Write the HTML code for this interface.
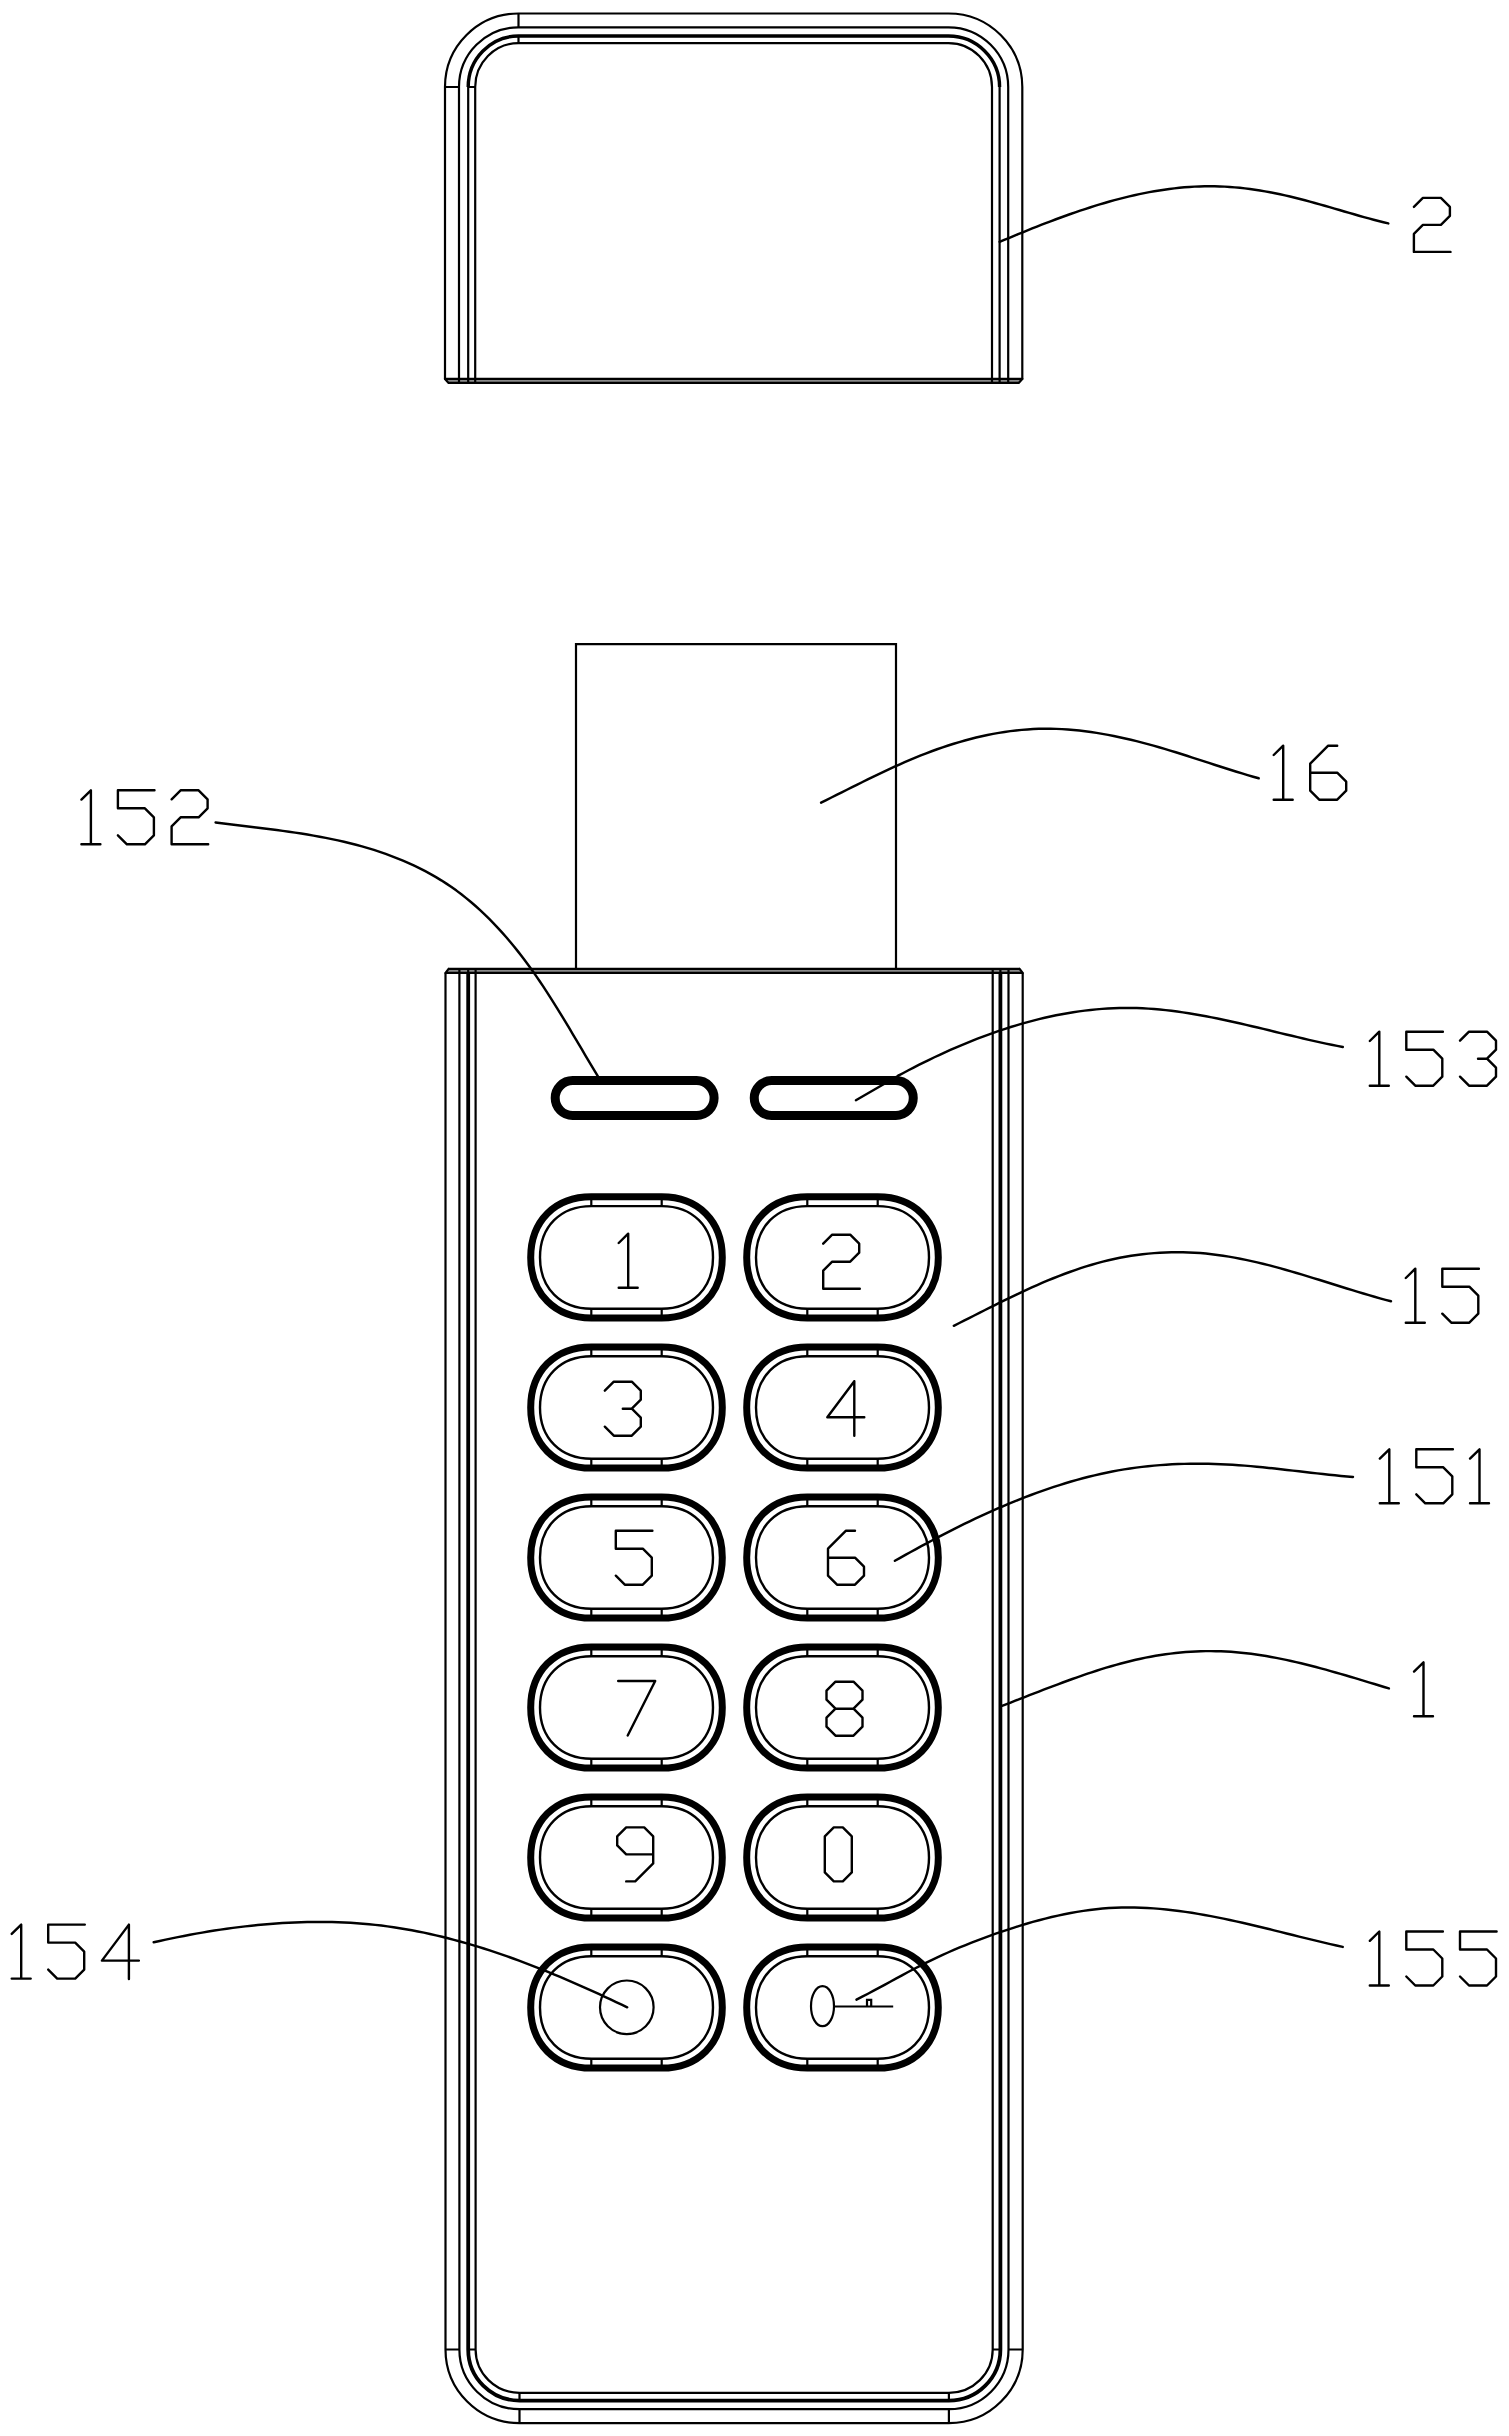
<!DOCTYPE html><html><head><meta charset="utf-8"><title>drawing</title><style>html,body{margin:0;padding:0;background:#fff;}svg{display:block;}</style></head><body>
<svg width="1509" height="2436" viewBox="0 0 1509 2436">
<rect width="1509" height="2436" fill="#fff"/>
<g fill="none" stroke="#000" stroke-linecap="round" stroke-linejoin="round">
<path d="M445,379 L445,87 A73.5,73.5 0 0 1 518.5,13.5 L948.5,13.5 A73.8,73.5 0 0 1 1022.3,87 L1022.3,379" stroke-width="2.2"/>
<path d="M459,379 L459,87 A59.5,59.7 0 0 1 518.5,27.3 L948.5,27.3 A59.7,59.7 0 0 1 1008.2,87 L1008.2,379" stroke-width="2.2"/>
<path d="M468.2,87 A50.3,51 0 0 1 518.5,36 L948.5,36 A51.1,51 0 0 1 999.6,87" stroke-width="3.4" stroke-linecap="butt"/>
<path d="M468.2,87 L468.2,379 M999.6,87 L999.6,379" stroke-width="2.2"/>
<path d="M475.2,379 L475.2,87 A43.3,43.9 0 0 1 518.5,43.1 L948.5,43.1 A43.5,43.9 0 0 1 992,87 L992,379" stroke-width="2.2"/>
<path d="M518.5,13.5 L518.5,27.3 M518.5,36 L518.5,43.1 M445,87 L459,87 M468.2,87 L475.2,87" stroke-width="2.2" stroke-linecap="butt"/>
<path d="M447,381 L1020.3,381" stroke="#8a8a8a" stroke-width="2.2" stroke-linecap="butt"/>
<path d="M445,378.9 L1022.3,378.9 M445,378.9 L448.6,382.9 L1018.7,382.9 L1022.3,378.9" stroke-width="2.2"/>
<path d="M459,379 L459,383 M468.2,379 L468.2,383 M475.2,379 L475.2,383 M1008.2,379 L1008.2,383 M999.6,379 L999.6,383 M992,379 L992,383" stroke-width="2.2" stroke-linecap="butt"/>
<path d="M576,969 L576,644.1 L896,644.1 L896,969" stroke-width="2.2" stroke-linejoin="miter"/>
<path d="M445.5,972.8 L445.5,2349.5 A74,73.6 0 0 0 519.5,2423.1 L948.9,2423.1 A73.8,73.6 0 0 0 1022.7,2349.5 L1022.7,972.8" stroke-width="2.2" stroke-linecap="butt"/>
<path d="M459.4,972.8 L459.4,2349.5 A60.1,59.7 0 0 0 519.5,2409.2 L948.9,2409.2 A59.6,59.7 0 0 0 1008.5,2349.5 L1008.5,972.8" stroke-width="2.2" stroke-linecap="butt"/>
<path d="M468.2,972.8 L468.2,2349.5 A51.3,51.1 0 0 0 519.5,2400.6 L948.9,2400.6 A51.5,51.1 0 0 0 1000.4,2349.5 L1000.4,972.8" stroke-width="3.8" stroke-linecap="butt"/>
<path d="M475.6,972.8 L475.6,2349.5 A43.9,43.3 0 0 0 519.5,2392.8 L948.9,2392.8 A43.8,43.3 0 0 0 992.7,2349.5 L992.7,972.8" stroke-width="2.2" stroke-linecap="butt"/>
<path d="M445.5,2349.5 L459.4,2349.5 M468.2,2349.5 L475.6,2349.5 M519.5,2392.8 L519.5,2400.6 M519.5,2409.2 L519.5,2423.1 M1022.7,2349.5 L1008.5,2349.5 M1000.4,2349.5 L992.7,2349.5 M948.9,2392.8 L948.9,2400.6 M948.9,2409.2 L948.9,2423.1" stroke-width="2.2" stroke-linecap="butt"/>
<path d="M447.5,970.9 L1020.7,970.9" stroke="#8a8a8a" stroke-width="2.2" stroke-linecap="butt"/>
<path d="M448.6,968.9 L1019.6,968.9 M445.5,972.9 L448.6,968.9 M1022.7,972.9 L1019.6,968.9 M445.5,972.9 L1022.7,972.9" stroke-width="2.2"/>
<path d="M459.4,969 L459.4,973 M468.2,969 L468.2,973 M475.6,969 L475.6,973 M1008.5,969 L1008.5,973 M1000.4,969 L1000.4,973 M992.7,969 L992.7,973" stroke-width="2.2" stroke-linecap="butt"/>
<rect x="555.2" y="1080.6" width="158.9" height="34.9" rx="17.45" ry="17.45" stroke-width="9"/>
<rect x="754.25" y="1080.6" width="159" height="34.9" rx="17.45" ry="17.45" stroke-width="9"/>
<path d="M591.3,1196.8 L661.7,1196.8 C698.06,1196.8 722.3,1221.04 722.3,1257.4 C722.3,1293.76 698.06,1318 661.7,1318 L591.3,1318 C554.94,1318 530.7,1293.76 530.7,1257.4 C530.7,1221.04 554.94,1196.8 591.3,1196.8 Z" stroke-width="7"/>
<path d="M591.3,1206.1 L661.7,1206.1 C692.48,1206.1 713,1226.62 713,1257.4 C713,1288.18 692.48,1308.7 661.7,1308.7 L591.3,1308.7 C560.52,1308.7 540,1288.18 540,1257.4 C540,1226.62 560.52,1206.1 591.3,1206.1 Z" stroke-width="2.4"/>
<path d="M591.3,1199.9 L591.3,1206.1 M661.7,1199.9 L661.7,1206.1 M591.3,1314.9 L591.3,1308.7 M661.7,1314.9 L661.7,1308.7" stroke-width="2.2" stroke-linecap="butt"/>
<path d="M807.3,1196.8 L877.7,1196.8 C914.06,1196.8 938.3,1221.04 938.3,1257.4 C938.3,1293.76 914.06,1318 877.7,1318 L807.3,1318 C770.94,1318 746.7,1293.76 746.7,1257.4 C746.7,1221.04 770.94,1196.8 807.3,1196.8 Z" stroke-width="7"/>
<path d="M807.3,1206.1 L877.7,1206.1 C908.48,1206.1 929,1226.62 929,1257.4 C929,1288.18 908.48,1308.7 877.7,1308.7 L807.3,1308.7 C776.52,1308.7 756,1288.18 756,1257.4 C756,1226.62 776.52,1206.1 807.3,1206.1 Z" stroke-width="2.4"/>
<path d="M807.3,1199.9 L807.3,1206.1 M877.7,1199.9 L877.7,1206.1 M807.3,1314.9 L807.3,1308.7 M877.7,1314.9 L877.7,1308.7" stroke-width="2.2" stroke-linecap="butt"/>
<path d="M591.3,1346.9 L661.7,1346.9 C698.06,1346.9 722.3,1371.14 722.3,1407.5 C722.3,1443.86 698.06,1468.1 661.7,1468.1 L591.3,1468.1 C554.94,1468.1 530.7,1443.86 530.7,1407.5 C530.7,1371.14 554.94,1346.9 591.3,1346.9 Z" stroke-width="7"/>
<path d="M591.3,1356.2 L661.7,1356.2 C692.48,1356.2 713,1376.72 713,1407.5 C713,1438.28 692.48,1458.8 661.7,1458.8 L591.3,1458.8 C560.52,1458.8 540,1438.28 540,1407.5 C540,1376.72 560.52,1356.2 591.3,1356.2 Z" stroke-width="2.4"/>
<path d="M591.3,1350 L591.3,1356.2 M661.7,1350 L661.7,1356.2 M591.3,1465 L591.3,1458.8 M661.7,1465 L661.7,1458.8" stroke-width="2.2" stroke-linecap="butt"/>
<path d="M807.3,1346.9 L877.7,1346.9 C914.06,1346.9 938.3,1371.14 938.3,1407.5 C938.3,1443.86 914.06,1468.1 877.7,1468.1 L807.3,1468.1 C770.94,1468.1 746.7,1443.86 746.7,1407.5 C746.7,1371.14 770.94,1346.9 807.3,1346.9 Z" stroke-width="7"/>
<path d="M807.3,1356.2 L877.7,1356.2 C908.48,1356.2 929,1376.72 929,1407.5 C929,1438.28 908.48,1458.8 877.7,1458.8 L807.3,1458.8 C776.52,1458.8 756,1438.28 756,1407.5 C756,1376.72 776.52,1356.2 807.3,1356.2 Z" stroke-width="2.4"/>
<path d="M807.3,1350 L807.3,1356.2 M877.7,1350 L877.7,1356.2 M807.3,1465 L807.3,1458.8 M877.7,1465 L877.7,1458.8" stroke-width="2.2" stroke-linecap="butt"/>
<path d="M591.3,1496.9 L661.7,1496.9 C698.06,1496.9 722.3,1521.14 722.3,1557.5 C722.3,1593.86 698.06,1618.1 661.7,1618.1 L591.3,1618.1 C554.94,1618.1 530.7,1593.86 530.7,1557.5 C530.7,1521.14 554.94,1496.9 591.3,1496.9 Z" stroke-width="7"/>
<path d="M591.3,1506.2 L661.7,1506.2 C692.48,1506.2 713,1526.72 713,1557.5 C713,1588.28 692.48,1608.8 661.7,1608.8 L591.3,1608.8 C560.52,1608.8 540,1588.28 540,1557.5 C540,1526.72 560.52,1506.2 591.3,1506.2 Z" stroke-width="2.4"/>
<path d="M591.3,1500 L591.3,1506.2 M661.7,1500 L661.7,1506.2 M591.3,1615 L591.3,1608.8 M661.7,1615 L661.7,1608.8" stroke-width="2.2" stroke-linecap="butt"/>
<path d="M807.3,1496.9 L877.7,1496.9 C914.06,1496.9 938.3,1521.14 938.3,1557.5 C938.3,1593.86 914.06,1618.1 877.7,1618.1 L807.3,1618.1 C770.94,1618.1 746.7,1593.86 746.7,1557.5 C746.7,1521.14 770.94,1496.9 807.3,1496.9 Z" stroke-width="7"/>
<path d="M807.3,1506.2 L877.7,1506.2 C908.48,1506.2 929,1526.72 929,1557.5 C929,1588.28 908.48,1608.8 877.7,1608.8 L807.3,1608.8 C776.52,1608.8 756,1588.28 756,1557.5 C756,1526.72 776.52,1506.2 807.3,1506.2 Z" stroke-width="2.4"/>
<path d="M807.3,1500 L807.3,1506.2 M877.7,1500 L877.7,1506.2 M807.3,1615 L807.3,1608.8 M877.7,1615 L877.7,1608.8" stroke-width="2.2" stroke-linecap="butt"/>
<path d="M591.3,1646.9 L661.7,1646.9 C698.06,1646.9 722.3,1671.14 722.3,1707.5 C722.3,1743.86 698.06,1768.1 661.7,1768.1 L591.3,1768.1 C554.94,1768.1 530.7,1743.86 530.7,1707.5 C530.7,1671.14 554.94,1646.9 591.3,1646.9 Z" stroke-width="7"/>
<path d="M591.3,1656.2 L661.7,1656.2 C692.48,1656.2 713,1676.72 713,1707.5 C713,1738.28 692.48,1758.8 661.7,1758.8 L591.3,1758.8 C560.52,1758.8 540,1738.28 540,1707.5 C540,1676.72 560.52,1656.2 591.3,1656.2 Z" stroke-width="2.4"/>
<path d="M591.3,1650 L591.3,1656.2 M661.7,1650 L661.7,1656.2 M591.3,1765 L591.3,1758.8 M661.7,1765 L661.7,1758.8" stroke-width="2.2" stroke-linecap="butt"/>
<path d="M807.3,1646.9 L877.7,1646.9 C914.06,1646.9 938.3,1671.14 938.3,1707.5 C938.3,1743.86 914.06,1768.1 877.7,1768.1 L807.3,1768.1 C770.94,1768.1 746.7,1743.86 746.7,1707.5 C746.7,1671.14 770.94,1646.9 807.3,1646.9 Z" stroke-width="7"/>
<path d="M807.3,1656.2 L877.7,1656.2 C908.48,1656.2 929,1676.72 929,1707.5 C929,1738.28 908.48,1758.8 877.7,1758.8 L807.3,1758.8 C776.52,1758.8 756,1738.28 756,1707.5 C756,1676.72 776.52,1656.2 807.3,1656.2 Z" stroke-width="2.4"/>
<path d="M807.3,1650 L807.3,1656.2 M877.7,1650 L877.7,1656.2 M807.3,1765 L807.3,1758.8 M877.7,1765 L877.7,1758.8" stroke-width="2.2" stroke-linecap="butt"/>
<path d="M591.3,1796.9 L661.7,1796.9 C698.06,1796.9 722.3,1821.14 722.3,1857.5 C722.3,1893.86 698.06,1918.1 661.7,1918.1 L591.3,1918.1 C554.94,1918.1 530.7,1893.86 530.7,1857.5 C530.7,1821.14 554.94,1796.9 591.3,1796.9 Z" stroke-width="7"/>
<path d="M591.3,1806.2 L661.7,1806.2 C692.48,1806.2 713,1826.72 713,1857.5 C713,1888.28 692.48,1908.8 661.7,1908.8 L591.3,1908.8 C560.52,1908.8 540,1888.28 540,1857.5 C540,1826.72 560.52,1806.2 591.3,1806.2 Z" stroke-width="2.4"/>
<path d="M591.3,1800 L591.3,1806.2 M661.7,1800 L661.7,1806.2 M591.3,1915 L591.3,1908.8 M661.7,1915 L661.7,1908.8" stroke-width="2.2" stroke-linecap="butt"/>
<path d="M807.3,1796.9 L877.7,1796.9 C914.06,1796.9 938.3,1821.14 938.3,1857.5 C938.3,1893.86 914.06,1918.1 877.7,1918.1 L807.3,1918.1 C770.94,1918.1 746.7,1893.86 746.7,1857.5 C746.7,1821.14 770.94,1796.9 807.3,1796.9 Z" stroke-width="7"/>
<path d="M807.3,1806.2 L877.7,1806.2 C908.48,1806.2 929,1826.72 929,1857.5 C929,1888.28 908.48,1908.8 877.7,1908.8 L807.3,1908.8 C776.52,1908.8 756,1888.28 756,1857.5 C756,1826.72 776.52,1806.2 807.3,1806.2 Z" stroke-width="2.4"/>
<path d="M807.3,1800 L807.3,1806.2 M877.7,1800 L877.7,1806.2 M807.3,1915 L807.3,1908.8 M877.7,1915 L877.7,1908.8" stroke-width="2.2" stroke-linecap="butt"/>
<path d="M591.3,1946.9 L661.7,1946.9 C698.06,1946.9 722.3,1971.14 722.3,2007.5 C722.3,2043.86 698.06,2068.1 661.7,2068.1 L591.3,2068.1 C554.94,2068.1 530.7,2043.86 530.7,2007.5 C530.7,1971.14 554.94,1946.9 591.3,1946.9 Z" stroke-width="7"/>
<path d="M591.3,1956.2 L661.7,1956.2 C692.48,1956.2 713,1976.72 713,2007.5 C713,2038.28 692.48,2058.8 661.7,2058.8 L591.3,2058.8 C560.52,2058.8 540,2038.28 540,2007.5 C540,1976.72 560.52,1956.2 591.3,1956.2 Z" stroke-width="2.4"/>
<path d="M591.3,1950 L591.3,1956.2 M661.7,1950 L661.7,1956.2 M591.3,2065 L591.3,2058.8 M661.7,2065 L661.7,2058.8" stroke-width="2.2" stroke-linecap="butt"/>
<path d="M807.3,1946.9 L877.7,1946.9 C914.06,1946.9 938.3,1971.14 938.3,2007.5 C938.3,2043.86 914.06,2068.1 877.7,2068.1 L807.3,2068.1 C770.94,2068.1 746.7,2043.86 746.7,2007.5 C746.7,1971.14 770.94,1946.9 807.3,1946.9 Z" stroke-width="7"/>
<path d="M807.3,1956.2 L877.7,1956.2 C908.48,1956.2 929,1976.72 929,2007.5 C929,2038.28 908.48,2058.8 877.7,2058.8 L807.3,2058.8 C776.52,2058.8 756,2038.28 756,2007.5 C756,1976.72 776.52,1956.2 807.3,1956.2 Z" stroke-width="2.4"/>
<path d="M807.3,1950 L807.3,1956.2 M877.7,1950 L877.7,1956.2 M807.3,2065 L807.3,2058.8 M877.7,2065 L877.7,2058.8" stroke-width="2.2" stroke-linecap="butt"/>
<path transform="translate(618.7 1233.7)" d="M0,9.3 L9.5,0 L9.5,54 M0,54 L19,54" stroke-width="2.4"/>
<path transform="translate(823.2 1234.7)" d="M0,9 L9,0 L27,0 L36,9 L36,18 L27,27 L9,27 L0,36 L0,54 L36.6,54" stroke-width="2.4"/>
<path transform="translate(604.8 1381.7)" d="M0,9 L9,0 L27,0 L36,9 L36,18 L27,27 L18,27 M27,27 L36,36 L36,45 L27,54 L9,54 L0,45" stroke-width="2.4"/>
<path transform="translate(827.3 1381.2)" d="M27,0 L0,36 L37,36 M27,0 L27,54.5" stroke-width="2.4"/>
<path transform="translate(615.8 1530.7)" d="M36.6,0 L0,0 L0,18 L27,18 L36,27 L36,45 L27,54 L9,54 L0,45" stroke-width="2.4"/>
<path transform="translate(828 1530.7)" d="M27,0 L18,0 L0,18 L0,45 L9,54 L27,54 L36,45 L36,36 L27,27 L0,27" stroke-width="2.4"/>
<path transform="translate(618.2 1681)" d="M0,0 L37,0 L9.5,54.5" stroke-width="2.4"/>
<path transform="translate(826.5 1681.7)" d="M9,0 L27,0 L36,9 L36,18 L27,27 L9,27 L0,18 L0,9 Z M9,27 L0,36 L0,45 L9,54 L27,54 L36,45 L36,36 L27,27" stroke-width="2.4"/>
<path transform="translate(617.2 1827.4)" d="M9,54 L18,54 L36,36 L36,9 L27,0 L9,0 L0,9 L0,18 L9,27 L36,27" stroke-width="2.4"/>
<path transform="translate(824.8 1827.4)" d="M9,0 L18,0 L27,9 L27,45 L18,54 L9,54 L0,45 L0,9 Z" stroke-width="2.4"/>
<circle cx="626.8" cy="2007.3" r="26.8" stroke-width="2.2"/>
<ellipse cx="822.5" cy="2006.2" rx="11.5" ry="20" stroke-width="2.2"/>
<path d="M834.2,2006.5 L893.2,2006.5 M867,2006.5 L867,1999.8 L871.2,1999.8 L871.2,2006.5" stroke-width="2.2" stroke-linejoin="miter" stroke-linecap="butt"/>
<path transform="translate(1413.9 197.9)" d="M0,9 L9,0 L27,0 L36,9 L36,18 L27,27 L9,27 L0,36 L0,54 L36.6,54" stroke-width="2.4"/>
<path transform="translate(1273.7 745.7)" d="M0,9.3 L9.5,0 L9.5,54 M0,54 L19,54" stroke-width="2.4"/>
<path transform="translate(1310.2 745.7)" d="M27,0 L18,0 L0,18 L0,45 L9,54 L27,54 L36,45 L36,36 L27,27 L0,27" stroke-width="2.4"/>
<path transform="translate(81.4 790.3)" d="M0,9.3 L9.5,0 L9.5,54 M0,54 L19,54" stroke-width="2.4"/>
<path transform="translate(117.9 790.3)" d="M36.6,0 L0,0 L0,18 L27,18 L36,27 L36,45 L27,54 L9,54 L0,45" stroke-width="2.4"/>
<path transform="translate(171.6 790.3)" d="M0,9 L9,0 L27,0 L36,9 L36,18 L27,27 L9,27 L0,36 L0,54 L36.6,54" stroke-width="2.4"/>
<path transform="translate(1369.8 1031.7)" d="M0,9.3 L9.5,0 L9.5,54 M0,54 L19,54" stroke-width="2.4"/>
<path transform="translate(1406.3 1031.7)" d="M36.6,0 L0,0 L0,18 L27,18 L36,27 L36,45 L27,54 L9,54 L0,45" stroke-width="2.4"/>
<path transform="translate(1460 1031.7)" d="M0,9 L9,0 L27,0 L36,9 L36,18 L27,27 L18,27 M27,27 L36,36 L36,45 L27,54 L9,54 L0,45" stroke-width="2.4"/>
<path transform="translate(1405.8 1268.7)" d="M0,9.3 L9.5,0 L9.5,54 M0,54 L19,54" stroke-width="2.4"/>
<path transform="translate(1442.3 1268.7)" d="M36.6,0 L0,0 L0,18 L27,18 L36,27 L36,45 L27,54 L9,54 L0,45" stroke-width="2.4"/>
<path transform="translate(1379.8 1449.3)" d="M0,9.3 L9.5,0 L9.5,54 M0,54 L19,54" stroke-width="2.4"/>
<path transform="translate(1416.3 1449.3)" d="M36.6,0 L0,0 L0,18 L27,18 L36,27 L36,45 L27,54 L9,54 L0,45" stroke-width="2.4"/>
<path transform="translate(1470 1449.3)" d="M0,9.3 L9.5,0 L9.5,54 M0,54 L19,54" stroke-width="2.4"/>
<path transform="translate(1414 1662.3)" d="M0,9.3 L9.5,0 L9.5,54 M0,54 L19,54" stroke-width="2.4"/>
<path transform="translate(11.7 1924.6)" d="M0,9.3 L9.5,0 L9.5,54 M0,54 L19,54" stroke-width="2.4"/>
<path transform="translate(48.2 1924.6)" d="M36.6,0 L0,0 L0,18 L27,18 L36,27 L36,45 L27,54 L9,54 L0,45" stroke-width="2.4"/>
<path transform="translate(101.9 1924.6)" d="M27,0 L0,36 L37,36 M27,0 L27,54.5" stroke-width="2.4"/>
<path transform="translate(1369.8 1931.5)" d="M0,9.3 L9.5,0 L9.5,54 M0,54 L19,54" stroke-width="2.4"/>
<path transform="translate(1406.3 1931.5)" d="M36.6,0 L0,0 L0,18 L27,18 L36,27 L36,45 L27,54 L9,54 L0,45" stroke-width="2.4"/>
<path transform="translate(1460 1931.5)" d="M36.6,0 L0,0 L0,18 L27,18 L36,27 L36,45 L27,54 L9,54 L0,45" stroke-width="2.4"/>
<path d="M999.6,241.9 L1004.2,239.97 L1008.82,238.03 L1013.46,236.1 L1018.12,234.18 L1022.8,232.26 L1027.49,230.36 L1032.2,228.46 L1036.93,226.58 L1041.67,224.72 L1046.43,222.88 L1051.2,221.05 L1055.99,219.25 L1060.8,217.48 L1065.62,215.73 L1070.45,214.01 L1075.3,212.32 L1080.15,210.66 L1085.02,209.04 L1089.91,207.46 L1094.8,205.92 L1099.71,204.42 L1104.63,202.96 L1109.55,201.55 L1114.49,200.19 L1119.44,198.88 L1124.39,197.62 L1129.35,196.41 L1134.33,195.26 L1139.31,194.17 L1144.29,193.14 L1149.29,192.17 L1154.29,191.27 L1159.29,190.44 L1164.31,189.67 L1169.32,188.98 L1174.34,188.35 L1179.37,187.81 L1184.4,187.34 L1189.43,186.95 L1194.47,186.64 L1199.51,186.42 L1204.55,186.28 L1209.59,186.23 L1214.63,186.27 L1219.68,186.41 L1224.72,186.63 L1229.77,186.95 L1234.81,187.35 L1239.85,187.83 L1244.89,188.4 L1249.93,189.04 L1254.96,189.75 L1259.99,190.54 L1265.01,191.39 L1270.03,192.31 L1275.04,193.29 L1280.05,194.32 L1285.05,195.42 L1290.03,196.56 L1295.01,197.76 L1299.99,199 L1304.95,200.28 L1309.9,201.6 L1314.84,202.96 L1319.77,204.34 L1324.69,205.74 L1329.61,207.16 L1334.52,208.59 L1339.43,210.02 L1344.33,211.46 L1349.22,212.88 L1354.11,214.3 L1359,215.7 L1363.89,217.07 L1368.77,218.42 L1373.65,219.73 L1378.53,221 L1383.42,222.23 L1388.3,223.4" stroke-width="2.45" stroke-linejoin="round"/>
<path d="M821.1,802.6 L826.26,800.06 L831.42,797.5 L836.58,794.93 L841.75,792.35 L846.93,789.76 L852.12,787.17 L857.32,784.59 L862.52,782.01 L867.74,779.44 L872.97,776.9 L878.21,774.37 L883.47,771.87 L888.75,769.4 L894.04,766.96 L899.35,764.56 L904.68,762.21 L910.03,759.9 L915.41,757.65 L920.8,755.46 L926.22,753.33 L931.66,751.26 L937.14,749.26 L942.63,747.34 L948.16,745.5 L953.7,743.74 L959.28,742.06 L964.87,740.47 L970.48,738.97 L976.12,737.56 L981.77,736.24 L987.44,735.02 L993.12,733.9 L998.82,732.88 L1004.53,731.96 L1010.25,731.16 L1015.98,730.46 L1021.72,729.88 L1027.47,729.41 L1033.22,729.07 L1038.98,728.84 L1044.74,728.74 L1050.51,728.76 L1056.27,728.9 L1062.04,729.15 L1067.81,729.52 L1073.57,730 L1079.33,730.58 L1085.08,731.26 L1090.84,732.03 L1096.58,732.9 L1102.32,733.85 L1108.05,734.88 L1113.77,736 L1119.47,737.19 L1125.17,738.45 L1130.86,739.78 L1136.53,741.16 L1142.18,742.61 L1147.82,744.11 L1153.45,745.67 L1159.05,747.27 L1164.64,748.91 L1170.22,750.58 L1175.78,752.29 L1181.33,754.02 L1186.86,755.78 L1192.4,757.55 L1197.92,759.33 L1203.44,761.13 L1208.95,762.92 L1214.46,764.71 L1219.98,766.49 L1225.49,768.25 L1231.01,770 L1236.53,771.73 L1242.06,773.43 L1247.6,775.09 L1253.14,776.72 L1258.7,778.3" stroke-width="2.45" stroke-linejoin="round"/>
<path d="M215.6,822.5 L221.65,823.26 L227.71,824.01 L233.79,824.75 L239.89,825.48 L246,826.21 L252.12,826.94 L258.25,827.69 L264.39,828.45 L270.53,829.22 L276.68,830.02 L282.83,830.85 L288.98,831.72 L295.13,832.62 L301.27,833.56 L307.41,834.55 L313.53,835.59 L319.65,836.69 L325.76,837.85 L331.85,839.08 L337.92,840.38 L343.98,841.76 L350.01,843.22 L356.02,844.76 L362.01,846.39 L367.98,848.12 L373.91,849.95 L379.81,851.87 L385.67,853.9 L391.48,856.04 L397.25,858.28 L402.97,860.63 L408.64,863.09 L414.24,865.67 L419.79,868.36 L425.26,871.17 L430.67,874.1 L435.99,877.15 L441.24,880.33 L446.4,883.63 L451.48,887.06 L456.47,890.62 L461.36,894.3 L466.18,898.09 L470.9,902 L475.55,906.02 L480.11,910.14 L484.6,914.36 L489,918.68 L493.33,923.08 L497.58,927.57 L501.75,932.14 L505.85,936.79 L509.88,941.51 L513.84,946.29 L517.74,951.13 L521.56,956.04 L525.32,960.99 L529.01,966 L532.64,971.05 L536.21,976.13 L539.72,981.26 L543.18,986.41 L546.59,991.6 L549.95,996.82 L553.28,1002.05 L556.57,1007.31 L559.82,1012.59 L563.05,1017.87 L566.25,1023.18 L569.43,1028.48 L572.59,1033.8 L575.75,1039.11 L578.89,1044.43 L582.03,1049.73 L585.17,1055.03 L588.31,1060.32 L591.46,1065.6 L594.62,1070.86 L597.8,1076.1" stroke-width="2.45" stroke-linejoin="round"/>
<path d="M855.9,1100.2 L898.3,1075.7" stroke-width="2.45"/>
<path d="M898.3,1075.7 L903.36,1072.97 L908.45,1070.27 L913.58,1067.6 L918.74,1064.96 L923.93,1062.35 L929.16,1059.79 L934.42,1057.26 L939.7,1054.77 L945.02,1052.33 L950.36,1049.93 L955.73,1047.58 L961.13,1045.27 L966.55,1043.02 L971.99,1040.81 L977.47,1038.67 L982.96,1036.57 L988.47,1034.54 L994.01,1032.56 L999.57,1030.65 L1005.14,1028.8 L1010.74,1027.01 L1016.35,1025.3 L1021.98,1023.65 L1027.62,1022.07 L1033.28,1020.56 L1038.96,1019.13 L1044.65,1017.78 L1050.35,1016.51 L1056.06,1015.31 L1061.78,1014.2 L1067.51,1013.17 L1073.25,1012.23 L1079,1011.37 L1084.76,1010.61 L1090.52,1009.94 L1096.28,1009.36 L1102.06,1008.87 L1107.83,1008.49 L1113.61,1008.2 L1119.39,1008.02 L1125.17,1007.93 L1130.95,1007.96 L1136.73,1008.08 L1142.51,1008.31 L1148.29,1008.64 L1154.07,1009.05 L1159.84,1009.56 L1165.62,1010.15 L1171.39,1010.82 L1177.16,1011.56 L1182.93,1012.38 L1188.7,1013.26 L1194.46,1014.21 L1200.22,1015.21 L1205.98,1016.27 L1211.74,1017.38 L1217.49,1018.54 L1223.24,1019.74 L1228.98,1020.97 L1234.72,1022.24 L1240.46,1023.53 L1246.19,1024.86 L1251.92,1026.2 L1257.64,1027.56 L1263.36,1028.93 L1269.07,1030.3 L1274.78,1031.69 L1280.48,1033.07 L1286.18,1034.44 L1291.87,1035.81 L1297.56,1037.16 L1303.24,1038.5 L1308.91,1039.82 L1314.57,1041.1 L1320.23,1042.36 L1325.88,1043.58 L1331.53,1044.77 L1337.17,1045.91 L1342.8,1047.01" stroke-width="2.45" stroke-linejoin="round"/>
<path d="M953.8,1325.8 L958.89,1323.24 L963.99,1320.66 L969.11,1318.07 L974.24,1315.47 L979.39,1312.86 L984.56,1310.25 L989.74,1307.64 L994.94,1305.04 L1000.16,1302.45 L1005.39,1299.88 L1010.64,1297.34 L1015.91,1294.81 L1021.2,1292.32 L1026.51,1289.86 L1031.83,1287.44 L1037.17,1285.07 L1042.54,1282.74 L1047.92,1280.47 L1053.32,1278.25 L1058.74,1276.1 L1064.19,1274.01 L1069.65,1272 L1075.13,1270.06 L1080.64,1268.2 L1086.16,1266.42 L1091.71,1264.74 L1097.28,1263.14 L1102.87,1261.65 L1108.49,1260.26 L1114.12,1258.98 L1119.78,1257.8 L1125.46,1256.74 L1131.16,1255.79 L1136.88,1254.95 L1142.6,1254.22 L1148.34,1253.6 L1154.09,1253.1 L1159.85,1252.7 L1165.61,1252.42 L1171.38,1252.25 L1177.14,1252.19 L1182.91,1252.25 L1188.67,1252.42 L1194.43,1252.7 L1200.18,1253.09 L1205.92,1253.59 L1211.66,1254.2 L1217.38,1254.92 L1223.09,1255.73 L1228.8,1256.64 L1234.49,1257.63 L1240.18,1258.71 L1245.86,1259.86 L1251.53,1261.09 L1257.19,1262.39 L1262.84,1263.75 L1268.49,1265.17 L1274.13,1266.65 L1279.76,1268.17 L1285.38,1269.74 L1291,1271.34 L1296.61,1272.98 L1302.21,1274.65 L1307.8,1276.34 L1313.39,1278.06 L1318.97,1279.78 L1324.55,1281.52 L1330.12,1283.26 L1335.68,1285 L1341.23,1286.74 L1346.79,1288.46 L1352.33,1290.17 L1357.87,1291.86 L1363.4,1293.52 L1368.93,1295.16 L1374.46,1296.76 L1379.97,1298.32 L1385.49,1299.83 L1391,1301.3" stroke-width="2.45" stroke-linejoin="round"/>
<path d="M894.9,1560.8 L900.15,1557.84 L905.41,1554.9 L910.69,1551.98 L915.98,1549.07 L921.28,1546.18 L926.6,1543.32 L931.93,1540.47 L937.28,1537.65 L942.65,1534.86 L948.03,1532.09 L953.43,1529.35 L958.84,1526.64 L964.27,1523.97 L969.72,1521.33 L975.19,1518.72 L980.68,1516.15 L986.18,1513.62 L991.7,1511.14 L997.25,1508.69 L1002.81,1506.29 L1008.39,1503.93 L1014,1501.62 L1019.62,1499.36 L1025.27,1497.15 L1030.94,1494.99 L1036.62,1492.88 L1042.33,1490.84 L1048.06,1488.85 L1053.81,1486.92 L1059.58,1485.06 L1065.36,1483.26 L1071.16,1481.53 L1076.99,1479.87 L1082.82,1478.28 L1088.68,1476.77 L1094.55,1475.33 L1100.44,1473.98 L1106.34,1472.7 L1112.25,1471.51 L1118.19,1470.4 L1124.13,1469.38 L1130.09,1468.46 L1136.06,1467.61 L1142.04,1466.86 L1148.03,1466.19 L1154.04,1465.6 L1160.05,1465.1 L1166.07,1464.67 L1172.09,1464.32 L1178.13,1464.05 L1184.17,1463.85 L1190.21,1463.73 L1196.25,1463.68 L1202.3,1463.7 L1208.36,1463.78 L1214.41,1463.94 L1220.46,1464.16 L1226.51,1464.44 L1232.56,1464.78 L1238.61,1465.19 L1244.65,1465.64 L1250.7,1466.15 L1256.74,1466.7 L1262.77,1467.29 L1268.81,1467.91 L1274.84,1468.56 L1280.87,1469.22 L1286.9,1469.91 L1292.92,1470.61 L1298.95,1471.31 L1304.96,1472.01 L1310.98,1472.71 L1316.99,1473.4 L1323,1474.07 L1329.01,1474.72 L1335.01,1475.34 L1341.01,1475.94 L1347.01,1476.49 L1353,1477" stroke-width="2.45" stroke-linejoin="round"/>
<path d="M1001.3,1706.1 L1005.96,1704.33 L1010.64,1702.53 L1015.32,1700.72 L1020.01,1698.9 L1024.71,1697.07 L1029.43,1695.23 L1034.15,1693.4 L1038.88,1691.56 L1043.63,1689.73 L1048.38,1687.9 L1053.14,1686.09 L1057.92,1684.29 L1062.7,1682.5 L1067.5,1680.74 L1072.31,1678.99 L1077.12,1677.28 L1081.95,1675.59 L1086.79,1673.93 L1091.63,1672.31 L1096.49,1670.73 L1101.36,1669.18 L1106.24,1667.69 L1111.13,1666.23 L1116.03,1664.83 L1120.94,1663.49 L1125.86,1662.2 L1130.79,1660.96 L1135.74,1659.8 L1140.69,1658.69 L1145.65,1657.66 L1150.63,1656.7 L1155.61,1655.81 L1160.6,1655 L1165.61,1654.26 L1170.62,1653.6 L1175.63,1653.01 L1180.66,1652.51 L1185.68,1652.08 L1190.71,1651.73 L1195.75,1651.45 L1200.79,1651.26 L1205.83,1651.15 L1210.87,1651.12 L1215.91,1651.18 L1220.95,1651.31 L1225.98,1651.53 L1231.02,1651.83 L1236.05,1652.22 L1241.08,1652.68 L1246.1,1653.22 L1251.12,1653.83 L1256.14,1654.51 L1261.15,1655.25 L1266.16,1656.07 L1271.16,1656.94 L1276.16,1657.87 L1281.15,1658.85 L1286.13,1659.89 L1291.11,1660.97 L1296.09,1662.1 L1301.05,1663.27 L1306.01,1664.49 L1310.96,1665.74 L1315.9,1667.03 L1320.84,1668.34 L1325.76,1669.69 L1330.68,1671.06 L1335.59,1672.45 L1340.49,1673.86 L1345.38,1675.29 L1350.26,1676.73 L1355.13,1678.18 L1359.98,1679.64 L1364.83,1681.11 L1369.67,1682.58 L1374.49,1684.04 L1379.31,1685.5 L1384.11,1686.96 L1388.9,1688.4" stroke-width="2.45" stroke-linejoin="round"/>
<path d="M153.7,1942.3 L159.7,1940.96 L165.73,1939.65 L171.76,1938.37 L177.82,1937.14 L183.89,1935.94 L189.97,1934.78 L196.07,1933.66 L202.18,1932.59 L208.3,1931.56 L214.43,1930.58 L220.58,1929.64 L226.73,1928.74 L232.89,1927.9 L239.06,1927.11 L245.24,1926.37 L251.42,1925.68 L257.61,1925.04 L263.8,1924.46 L270,1923.94 L276.2,1923.47 L282.4,1923.07 L288.61,1922.72 L294.81,1922.43 L301.02,1922.21 L307.22,1922.05 L313.42,1921.96 L319.62,1921.93 L325.82,1921.97 L332.02,1922.08 L338.2,1922.26 L344.39,1922.51 L350.56,1922.83 L356.73,1923.23 L362.9,1923.7 L369.05,1924.25 L375.19,1924.87 L381.33,1925.58 L387.45,1926.36 L393.56,1927.23 L399.66,1928.17 L405.75,1929.18 L411.82,1930.28 L417.89,1931.44 L423.94,1932.67 L429.98,1933.98 L436.01,1935.35 L442.02,1936.78 L448.02,1938.28 L454.01,1939.84 L459.99,1941.47 L465.96,1943.15 L471.91,1944.89 L477.85,1946.68 L483.77,1948.53 L489.68,1950.43 L495.58,1952.38 L501.46,1954.38 L507.34,1956.43 L513.19,1958.52 L519.03,1960.65 L524.86,1962.83 L530.68,1965.05 L536.48,1967.31 L542.26,1969.6 L548.03,1971.93 L553.79,1974.29 L559.53,1976.69 L565.25,1979.11 L570.96,1981.57 L576.66,1984.05 L582.34,1986.55 L588,1989.08 L593.65,1991.63 L599.28,1994.2 L604.9,1996.79 L610.5,1999.4 L616.08,2002.02 L621.65,2004.66 L627.2,2007.3" stroke-width="2.45" stroke-linejoin="round"/>
<path d="M856.5,1999.6 L862.25,1996.69 L867.97,1993.72 L873.67,1990.7 L879.35,1987.64 L885.02,1984.56 L890.69,1981.47 L896.35,1978.39 L902.01,1975.31 L907.68,1972.26 L913.36,1969.25 L919.06,1966.29 L924.79,1963.39 L930.54,1960.56 L936.31,1957.81 L942.11,1955.12 L947.95,1952.5 L953.81,1949.95 L959.69,1947.46 L965.61,1945.03 L971.56,1942.66 L977.54,1940.35 L983.56,1938.09 L989.6,1935.88 L995.68,1933.72 L1001.79,1931.61 L1007.93,1929.55 L1014.1,1927.54 L1020.3,1925.6 L1026.52,1923.73 L1032.77,1921.94 L1039.04,1920.22 L1045.33,1918.58 L1051.64,1917.04 L1057.96,1915.59 L1064.3,1914.24 L1070.65,1913 L1077.01,1911.87 L1083.38,1910.86 L1089.76,1909.97 L1096.14,1909.21 L1102.53,1908.58 L1108.91,1908.09 L1115.3,1907.74 L1121.68,1907.53 L1128.07,1907.45 L1134.45,1907.5 L1140.83,1907.67 L1147.21,1907.95 L1153.58,1908.35 L1159.96,1908.86 L1166.33,1909.46 L1172.7,1910.16 L1179.07,1910.96 L1185.43,1911.84 L1191.79,1912.8 L1198.14,1913.84 L1204.49,1914.94 L1210.84,1916.12 L1217.18,1917.35 L1223.52,1918.64 L1229.85,1919.98 L1236.18,1921.37 L1242.5,1922.79 L1248.82,1924.25 L1255.13,1925.74 L1261.43,1927.26 L1267.73,1928.79 L1274.02,1930.34 L1280.3,1931.9 L1286.58,1933.47 L1292.85,1935.03 L1299.11,1936.59 L1305.36,1938.14 L1311.61,1939.67 L1317.84,1941.18 L1324.07,1942.66 L1330.29,1944.11 L1336.5,1945.53 L1342.7,1946.9" stroke-width="2.45" stroke-linejoin="round"/>
</g></svg></body></html>
